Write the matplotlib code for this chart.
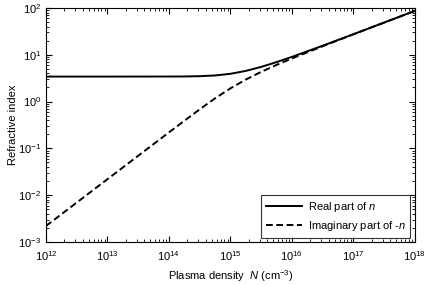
import matplotlib
matplotlib.use("Agg")
import matplotlib.pyplot as plt
from matplotlib.ticker import NullFormatter

plt.rcParams['font.family'] = ['Liberation Sans', 'DejaVu Sans']
plt.rcParams['mathtext.fontset'] = 'custom'
plt.rcParams['mathtext.rm'] = 'Liberation Sans'
plt.rcParams['mathtext.it'] = 'Liberation Sans:italic'

# plasma density (cm^-3)
density = [1e12, 1e13, 1e14, 1.778e14, 3.162e14, 5.623e14, 1e15, 1.778e15,
           3.162e15, 5.623e15, 1e16, 3.162e16, 1e17, 3.162e17, 1e18]
# real part of n
real_n = [3.42, 3.42, 3.43, 3.44, 3.49, 3.61, 3.92, 4.52,
          5.50, 6.96, 9.00, 15.6, 27.5, 48.8, 86.6]
# imaginary part of -n
imag_n = [0.00219, 0.0219, 0.219, 0.387, 0.680, 1.17, 1.91, 2.95,
          4.31, 6.06, 8.33, 15.2, 27.3, 48.6, 86.6]

x_ticks = [1e12, 1e13, 1e14, 1e15, 1e16, 1e17, 1e18]
y_ticks = [1e-3, 1e-2, 1e-1, 1e0, 1e1, 1e2]

fig = plt.figure(figsize=(4.33, 2.85), dpi=100)
ax = fig.add_axes([0.106, 0.151, 0.852, 0.821])

ax.loglog(density, real_n, color='black', lw=1.4, label='Real part of $n$')
ax.loglog(density, imag_n, color='black', lw=1.4, dashes=(3.5, 1.8),
          label='Imaginary part of -$n$')

ax.set_xticks(x_ticks)
ax.set_yticks(y_ticks)
ax.set_xlim(1e12, 1e18)
ax.set_ylim(1e-3, 1e2)
ax.xaxis.set_minor_formatter(NullFormatter())
ax.yaxis.set_minor_formatter(NullFormatter())
ax.tick_params(which='both', direction='in', top=True, right=True, labelsize=8)
ax.tick_params(which='major', length=4)
ax.tick_params(which='minor', length=2)
ax.tick_params(axis='x', pad=5)

ax.set_xlabel('Plasma density  $N$ (cm$^{-3}$)', fontsize=8)
ax.set_ylabel('Refractive index', fontsize=8)
ax.yaxis.set_label_coords(-0.075, 0.5)

leg = ax.legend(loc='lower right', fontsize=8, frameon=True, fancybox=False,
                handlelength=3.3, handletextpad=0.5, borderaxespad=0.4,
                edgecolor='black')
leg.get_frame().set_linewidth(0.8)

fig.savefig('out.png', dpi=100)
